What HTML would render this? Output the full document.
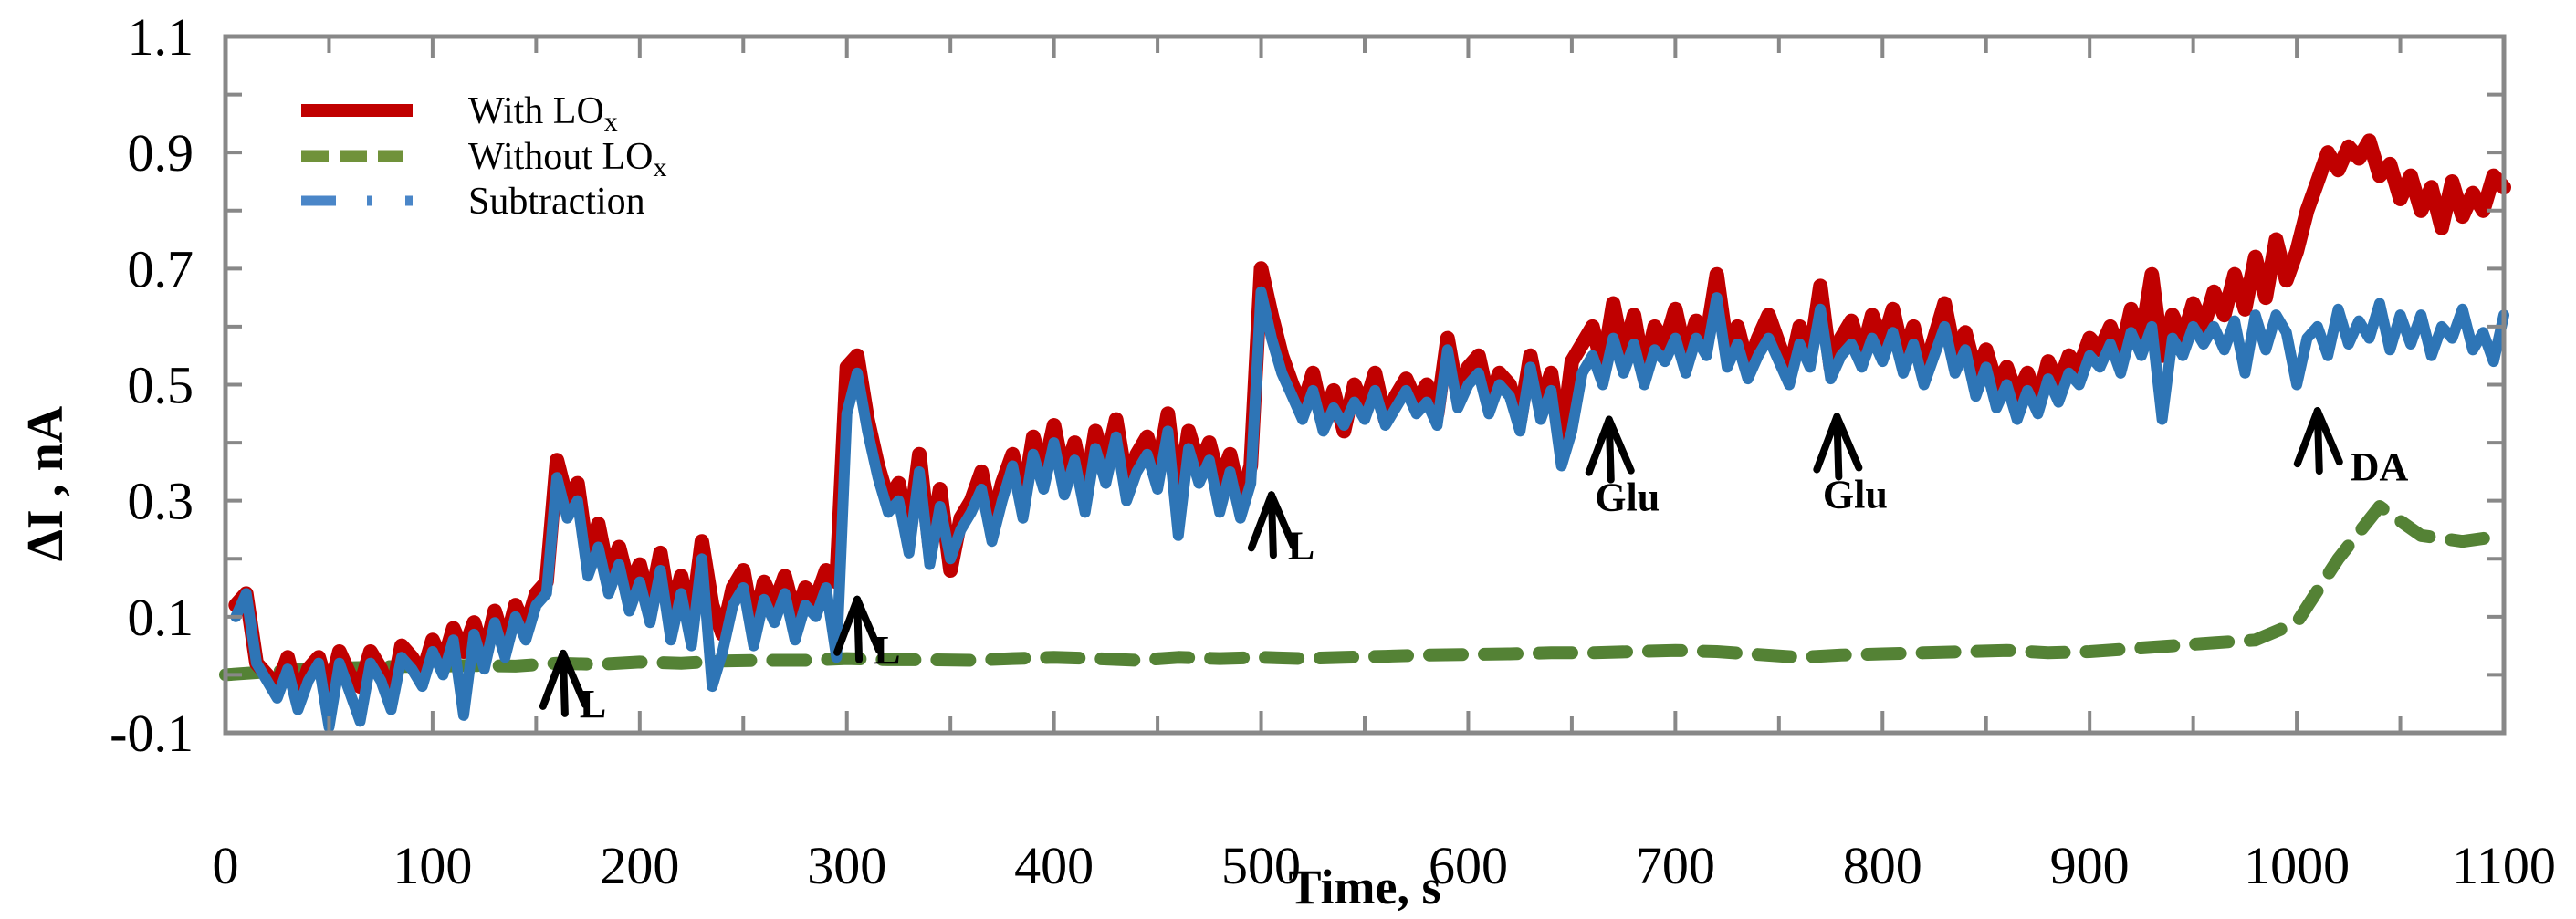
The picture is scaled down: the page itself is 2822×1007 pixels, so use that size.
<!DOCTYPE html>
<html><head><meta charset="utf-8"><style>
html,body{margin:0;padding:0;background:#fff;}
svg{display:block;font-family:"Liberation Serif",serif;}
</style></head><body>
<svg id="chart" width="2822" height="1007" viewBox="0 0 2822 1007" xmlns="http://www.w3.org/2000/svg">
<g id="plot"></g>
</svg>
<script>
const xTicks=[0,100,200,300,400,500,600,700,800,900,1000,1100];
const yTicks=[-0.1,0.1,0.3,0.5,0.7,0.9,1.1];
const redT=[];for(let t=5;t<=1100;t+=5)redT.push(t);
const redV=[0.12,0.14,0.02,0.00,-0.02,0.03,-0.04,0.01,0.03,-0.03,
0.04,0.00,-0.02,0.04,0.01,-0.04,0.05,0.03,0.00,0.06,
0.02,0.08,0.04,0.09,0.03,0.11,0.05,0.12,0.08,0.14,
0.16,0.37,0.30,0.33,0.20,0.26,0.17,0.22,0.15,0.19,
0.12,0.21,0.10,0.17,0.09,0.23,0.12,0.07,0.15,0.18,
0.08,0.16,0.12,0.17,0.10,0.15,0.13,0.18,0.16,0.53,
0.55,0.44,0.36,0.30,0.33,0.24,0.38,0.22,0.32,0.18,
0.27,0.30,0.35,0.26,0.33,0.38,0.30,0.41,0.35,0.43,
0.34,0.40,0.31,0.42,0.36,0.44,0.33,0.38,0.41,0.35,
0.45,0.30,0.42,0.36,0.40,0.33,0.38,0.30,0.36,0.70,
0.62,0.55,0.50,0.46,0.52,0.44,0.49,0.42,0.50,0.46,
0.52,0.44,0.48,0.51,0.47,0.50,0.45,0.58,0.48,0.53,
0.55,0.47,0.52,0.50,0.44,0.55,0.46,0.52,0.40,0.54,
0.57,0.60,0.53,0.64,0.55,0.62,0.52,0.60,0.57,0.63,
0.55,0.61,0.58,0.69,0.56,0.60,0.53,0.58,0.62,0.57,
0.52,0.60,0.55,0.67,0.53,0.58,0.61,0.55,0.62,0.57,
0.63,0.55,0.60,0.52,0.58,0.64,0.55,0.59,0.52,0.56,
0.50,0.53,0.48,0.52,0.47,0.54,0.50,0.55,0.53,0.58,
0.56,0.60,0.55,0.63,0.58,0.69,0.55,0.62,0.58,0.64,
0.60,0.66,0.62,0.69,0.63,0.72,0.65,0.75,0.68,0.73,
0.80,0.85,0.90,0.87,0.91,0.89,0.92,0.86,0.88,0.82,
0.86,0.80,0.84,0.77,0.85,0.79,0.83,0.80,0.86,0.84];
const blueV=[0.10,0.14,0.02,-0.01,-0.04,0.01,-0.06,-0.01,0.02,-0.09,
0.02,-0.03,-0.08,0.02,-0.01,-0.06,0.03,0.01,-0.02,0.04,
0.00,0.06,-0.07,0.07,0.01,0.09,0.03,0.10,0.06,0.12,
0.14,0.34,0.27,0.30,0.17,0.22,0.14,0.19,0.11,0.16,
0.09,0.18,0.06,0.14,0.05,0.20,-0.02,0.04,0.12,0.15,
0.05,0.13,0.09,0.14,0.06,0.12,0.10,0.15,0.03,0.45,
0.52,0.42,0.34,0.28,0.30,0.21,0.35,0.19,0.29,0.20,
0.25,0.28,0.32,0.23,0.30,0.36,0.27,0.38,0.32,0.40,
0.31,0.37,0.28,0.39,0.33,0.41,0.30,0.35,0.38,0.32,
0.42,0.24,0.39,0.33,0.37,0.28,0.35,0.27,0.33,0.66,
0.58,0.52,0.48,0.44,0.49,0.42,0.46,0.43,0.47,0.44,
0.49,0.43,0.46,0.49,0.45,0.47,0.43,0.56,0.46,0.50,
0.52,0.45,0.50,0.48,0.42,0.53,0.44,0.49,0.36,0.42,
0.52,0.55,0.50,0.58,0.52,0.57,0.50,0.56,0.54,0.58,
0.52,0.58,0.55,0.65,0.53,0.57,0.51,0.55,0.58,0.54,
0.50,0.57,0.53,0.63,0.51,0.55,0.57,0.53,0.58,0.54,
0.59,0.52,0.57,0.50,0.55,0.60,0.52,0.56,0.48,0.53,
0.46,0.50,0.44,0.49,0.45,0.51,0.47,0.52,0.50,0.55,
0.53,0.57,0.52,0.59,0.55,0.60,0.44,0.58,0.55,0.60,
0.57,0.60,0.56,0.61,0.52,0.62,0.56,0.62,0.59,0.50,
0.58,0.60,0.55,0.63,0.57,0.61,0.58,0.64,0.56,0.62,
0.57,0.62,0.55,0.60,0.58,0.63,0.56,0.59,0.54,0.62];
const greenT=[0,20,40,60,80,100,120,140,160,180,200,220,240,260,280,300,320,340,360,380,400,420,440,460,480,500,520,540,560,580,600,620,640,660,680,700,720,740,760,780,800,820,840,860,880,900,920,940,960,980,1000,1020,1040,1060,1080,1100];
const greenV=[0.00,0.005,0.01,0.012,0.014,0.015,0.016,0.015,0.02,0.018,0.022,0.02,0.024,0.025,0.025,0.028,0.026,0.026,0.025,0.028,0.03,0.028,0.025,0.03,0.028,0.03,0.028,0.03,0.032,0.034,0.035,0.036,0.038,0.038,0.04,0.042,0.04,0.035,0.03,0.034,0.036,0.038,0.04,0.042,0.038,0.04,0.045,0.05,0.055,0.06,0.09,0.2,0.29,0.24,0.23,0.24];
const annLabels=["L","L","L","Glu","Glu","DA"];
const annT=[163,305,505,668,778,1010];
const annTip=[0.037,0.13,0.31,0.44,0.445,0.455];

const X0=247,X1=2743,Y0=803,Y1=40;
const xs=t=>X0+(t/1100)*(X1-X0);
const ys=v=>Y0-((v+0.1)/1.2)*(Y0-Y1);
const NS="http://www.w3.org/2000/svg";
const svg=document.getElementById('chart');
function mk(tag,attrs,parent){const e=document.createElementNS(NS,tag);for(const k in attrs)e.setAttribute(k,attrs[k]);(parent||svg).appendChild(e);return e;}
const plot=document.getElementById('plot');

const pts=(T,V)=>T.map((t,i)=>xs(t).toFixed(1)+","+ys(V[i]).toFixed(1)).join(" ");
const green=mk('polyline',{points:pts(greenT,greenV),fill:'none',stroke:'#548235','stroke-width':14,'stroke-dasharray':'36 24','stroke-linecap':'round','stroke-linejoin':'round'},plot);


const red=mk('polyline',{points:pts(redT,redV),fill:'none',stroke:'#c00000','stroke-width':16,'stroke-linejoin':'round','stroke-linecap':'round'},plot);


const blue=mk('polyline',{points:pts(redT,blueV),fill:'none',stroke:'#2e75b6','stroke-width':12,'stroke-linejoin':'round','stroke-linecap':'round'},plot);



const ax='#888888';
const box=mk('path',{d:`M${X0},${Y1}H${X1}V${Y0}H${X0}Z`,fill:'none',stroke:ax,'stroke-width':5});


for(let t=0;t<=1100;t+=50){
  const L=(t%100===0)?24:18;
  const a=mk('line',{x1:xs(t),x2:xs(t),y1:Y0,y2:Y0-L,stroke:ax,'stroke-width':4});
  
  
  const b=mk('line',{x1:xs(t),x2:xs(t),y1:Y1,y2:Y1+L,stroke:ax,'stroke-width':4});
  
  
}
for(let k=-1;k<=11;k++){
  const v=k/10;
  const a=mk('line',{x1:X0,x2:X0+18,y1:ys(v),y2:ys(v),stroke:ax,'stroke-width':4});
  
  
  const b=mk('line',{x1:X1,x2:X1-18,y1:ys(v),y2:ys(v),stroke:ax,'stroke-width':4});
  
  
}
xTicks.forEach(t=>{
  const e=mk('text',{x:xs(t),y:968,'text-anchor':'middle','font-size':58});
  e.textContent=t;
  
  
});
yTicks.forEach(v=>{
  const e=mk('text',{x:212,y:ys(v)+20,'text-anchor':'end','font-size':58});
  e.textContent=(Math.round(v*10)/10).toFixed(1);
  
  
});
const xt=mk('text',{x:(X0+X1)/2,y:990,'text-anchor':'middle','font-size':54,'font-weight':'bold'});
xt.textContent='Time, s';


const yt=mk('text',{x:0,y:0,'text-anchor':'middle','font-size':56,'font-weight':'bold',transform:'translate(68,530) rotate(-90)'});
yt.textContent='ΔI , nA';



annT.forEach((t,i)=>{
  const x=xs(t),y=ys(annTip[i]);
  const g=mk('g',{stroke:'#000','stroke-width':8,fill:'none','stroke-linecap':'round'});
  
  
  mk('line',{x1:x,y1:y,x2:x+2,y2:y+66},g);
  mk('line',{x1:x,y1:y,x2:x-22,y2:y+58},g);
  mk('line',{x1:x,y1:y,x2:x+24,y2:y+56},g);
  const lab=annLabels[i];
  let tx,ty,anc;
  if(lab==='L'){tx=x+18;ty=y+70;anc='start';}
  else if(lab==='Glu'){tx=x+20;ty=y+100;anc='middle';}
  else {tx=x+36;ty=y+76;anc='start';}
  const e=mk('text',{x:tx,y:ty,'text-anchor':anc,'font-size':44,'font-weight':'bold'});
  e.textContent=lab;
  
  
});

const lg=mk('g',{});


const l1=mk('line',{x1:330,x2:452,y1:121,y2:121,stroke:'#c00000','stroke-width':14},lg);


const l2=mk('line',{x1:330,x2:442,y1:171,y2:171,stroke:'#70923a','stroke-width':13,'stroke-dasharray':'30 12'},lg);


const l3=mk('path',{d:'M330,220H368M402,220H408M444,220H452',stroke:'#4a86c8','stroke-width':11},lg);


const legTxt=[['With LO',135],['Without LO',185],['Subtraction',234]];
legTxt.forEach((d,i)=>{
  const e=mk('text',{x:513,y:d[1],'font-size':42},lg);
  e.textContent=d[0];
  if(i<2){const s=mk('tspan',{'font-size':30,dy:8},e);s.textContent='x';}
  
  
});
</script>
</body></html>
